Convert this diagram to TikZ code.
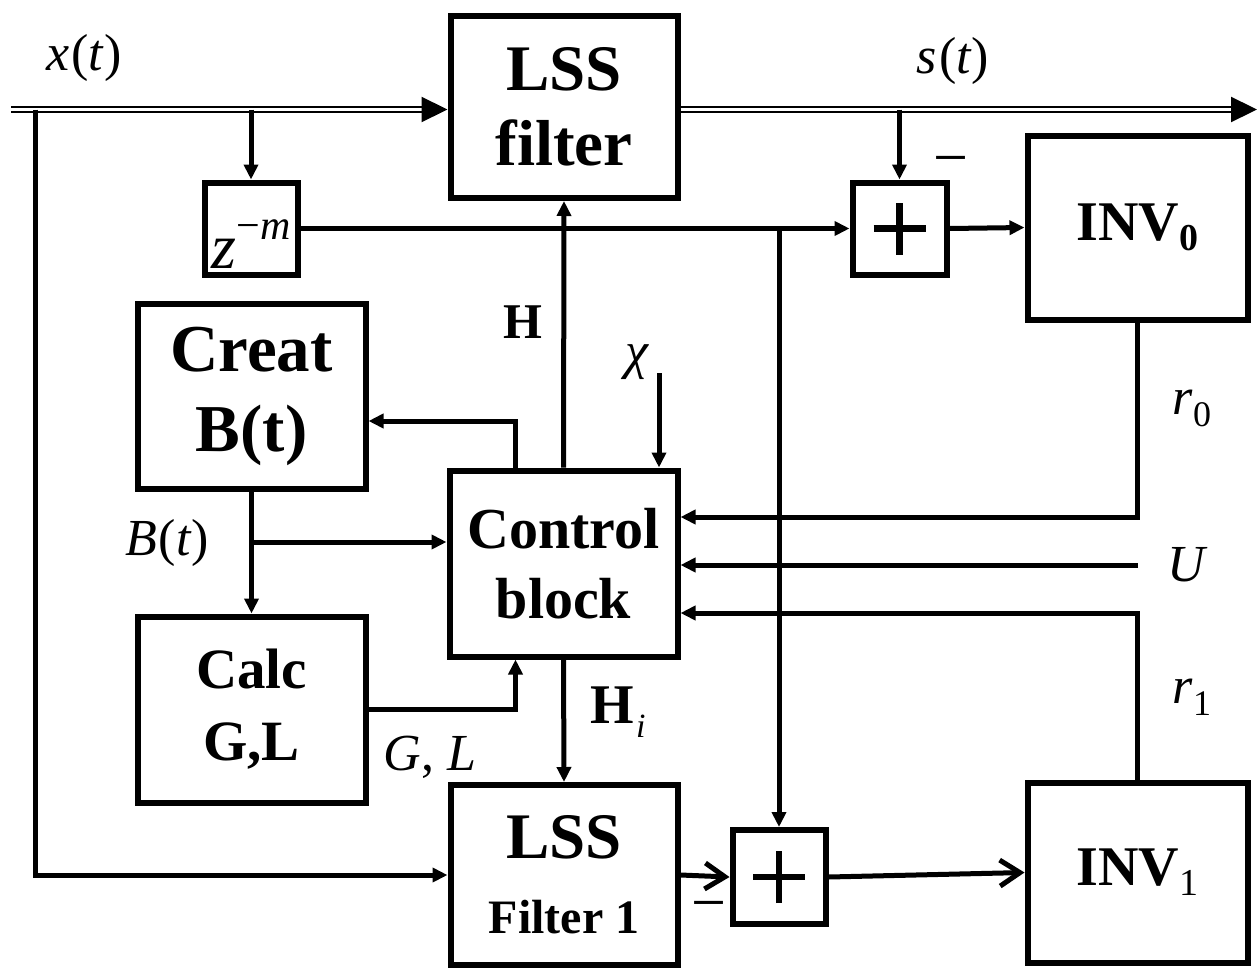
\documentclass[tikz,border=0pt]{standalone}
\usepackage{fontspec}
\setmainfont{Liberation Serif}
\usetikzlibrary{arrows.meta,calc}

\begin{document}
\begin{tikzpicture}[x=1pt,y=-1pt,
  blk/.style={draw,line width=6pt,inner sep=0pt,align=center},
  lbl/.style={font=\fontsize{52}{54}\selectfont},
  arr/.style={line width=5pt,-{Triangle[length=15pt,width=14pt]}},
  sig/.style={line width=2.2pt,double,double distance=2.6pt,-{Triangle[length=26pt,width=25pt]}},
  opn/.style={line width=5pt,-{Straight Barb[length=20pt,width=26pt,line width=5pt]}}]
  \useasboundingbox (0,0) rectangle (1260,969);

  %% Blocks
  \node[blk,minimum width=227,minimum height=182,font=\fontsize{65}{75}\selectfont\bfseries]
        (lss) at (564,107) {LSS\\filter};
  \node[blk,minimum width=93,minimum height=92,text height=80pt,text depth=0pt,
        font=\fontsize{64}{64}\selectfont]
        (zm) at (251,228.5) {\textit{z}\raisebox{29pt}{\fontsize{42}{42}\selectfont −\textit{m}}};
  \node[blk,minimum width=94,minimum height=92] (p0) at (899.5,228.5) {};
  \node[blk,minimum width=220,minimum height=184,font=\fontsize{56}{60}\selectfont\bfseries]
        (inv0) at (1137.5,227.5) {INV\raisebox{-10pt}{\fontsize{38}{38}\selectfont 0}};
  \node[blk,minimum width=228,minimum height=185,font=\fontsize{67}{80}\selectfont\bfseries]
        (creat) at (251.5,396) {Creat\\B(t)};
  \node[blk,minimum width=228,minimum height=186,font=\fontsize{58}{70}\selectfont\bfseries]
        (ctrl) at (563.5,563.5) {Control\\block};
  \node[blk,minimum width=228,minimum height=186,font=\fontsize{57}{72}\selectfont\bfseries]
        (calc) at (251.5,709.5) {Calc\\G,L};
  \node[blk,minimum width=227,minimum height=180,font=\fontsize{65}{75}\selectfont\bfseries]
        (lss1) at (564,875) {LSS\\\fontsize{48}{55}\selectfont Filter 1};
  \node[blk,minimum width=93,minimum height=94] (p1) at (779,877) {};
  \node[blk,minimum width=220,minimum height=180,font=\fontsize{56}{60}\selectfont\bfseries]
        (inv1) at (1137.5,872.5) {INV\raisebox{-10pt}{\fontsize{38}{38}\selectfont\mdseries 1}};

  %% Plus signs of the adders
  \foreach \p in {p0,p1}
    \draw[line width=6.5pt] ([xshift=-26pt]\p.center) -- ([xshift=26pt]\p.center)
                            ([yshift=-26pt]\p.center) -- ([yshift=26pt]\p.center);

  %% Free ends
  \coordinate (xin) at (11,109.5);
  \coordinate (sout) at (1257,109.5);
  \coordinate (x0) at (35,109.5);
  \coordinate (zb) at (251,109.5);
  \coordinate (zj) at (p1.north |- zm.east);
  \coordinate (bt) at (251,542);
  \coordinate (chi) at (659,373);
  \coordinate (uin) at (1138,565);

  %% Signal path
  \draw[sig] (xin) -- (xin -| lss.west);
  \draw[sig] (xin -| lss.east) -- (sout);
  \draw[arr] (zb) -- (zm.north);
  \draw[arr] (zm.east) -- (p0.west);
  \draw[arr] (p0.north |- sout) -- (p0.north);
  \draw[arr] (p0.east) -- (inv0.west);
  \draw[arr] (zj) -- (p1.north);
  \draw[arr] (x0) |- (lss1.west);
  \draw[opn] (lss1.east) -- (p1.west);
  \draw[opn] (p1.east) -- (inv1.west);

  %% Control connections
  \draw[arr] (ctrl.north) -- (lss.south);
  \draw[arr] ([xshift=-48pt]ctrl.north) |- ([yshift=-25pt]creat.east);
  \draw[arr] (chi) -- (chi |- ctrl.north);
  \draw[arr] (creat.south) -- (calc.north);
  \draw[arr] (bt) -- (bt -| ctrl.west);
  \draw[arr] (calc.east) -| ([xshift=-48pt]ctrl.south);
  \draw[arr] (ctrl.south) -- (lss1.north);
  \draw[arr] (inv0.south) |- ([yshift=46.5pt]ctrl.east);
  \draw[arr] (uin) -- (uin -| ctrl.east);
  \draw[arr] (inv1.north) |- ([yshift=-49.5pt]ctrl.east);

  %% Labels
  \node[lbl] at (84,58) {\textit{x}\kern2pt(\textit{t})};
  \node[lbl] at (953,61) {\textit{s}\kern2pt(\textit{t})};
  \node[lbl,font=\fontsize{50}{50}\selectfont\bfseries] at (523,322) {H};
  \node[lbl] at (637,362) {\textit{χ}};
  \node[lbl] at (1192,408) {\textit{r}\raisebox{-12pt}{\fontsize{36}{36}\selectfont 0}};
  \node[lbl] at (1188,565) {\textit{U}};
  \node[lbl] at (1192,697) {\textit{r}\raisebox{-12pt}{\fontsize{36}{36}\selectfont 1}};
  \node[lbl] at (167,543) {\textit{B}\kern2pt(\textit{t})};
  \node[lbl] at (430,757) {\textit{G}, \textit{L}};
  \node[lbl] at (618,712) {\fontsize{56}{56}\selectfont\textbf{H}\kern2pt\raisebox{-14pt}{\fontsize{34}{34}\selectfont\textit{i}}};
  \node[lbl,font=\fontsize{62}{62}\selectfont] at (951,167) {−};
  \node[lbl,font=\fontsize{62}{62}\selectfont] at (709,912) {−};
\end{tikzpicture}
\end{document}
